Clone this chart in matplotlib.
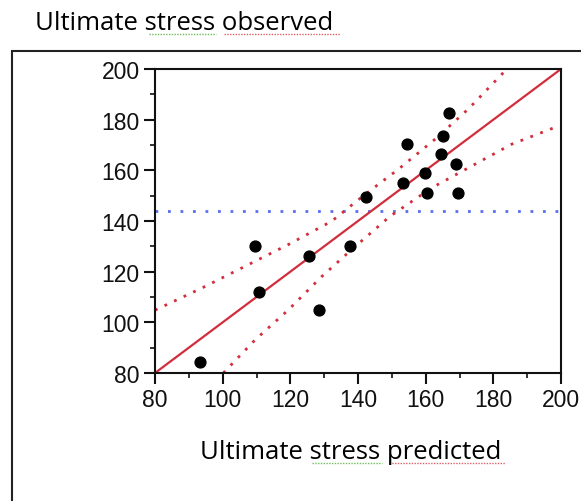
import matplotlib
matplotlib.use('Agg')

import matplotlib.pyplot  as plt
import matplotlib.patches as mpatches
import matplotlib.ticker  as ticker


# values
predicted = [93.3, 109.6, 110.7, 125.5, 128.6, 137.6, 142.4, 153.2,
             154.4, 159.8, 160.5, 164.5, 165.2, 167.0, 168.9, 169.5]
observed  = [84.5, 130.3, 112.0, 126.3, 104.7, 130.3, 149.6, 155.1,
             170.3, 159.1, 151.2, 166.3, 173.6, 182.5, 162.4, 151.2]

fit_x = [80, 200]
fit_y = [80, 200]

mean_obs = 144.0

upper_x = [80.0, 93.8, 106.6, 119.4, 132.2, 142.1, 151.9, 162.8, 172.6, 184.0]
upper_y = [104.8, 113.5, 122.1, 130.7, 139.9, 150.5, 160.4, 172.3, 184.2, 200.0]
lower_x = [100.2, 109.6, 119.4, 129.3, 138.1, 149.5, 161.8, 173.6, 185.4, 198.3]
lower_y = [80.0, 93.1, 104.9, 118.1, 128.7, 141.9, 153.1, 161.7, 170.3, 177.0]

ticks = [80, 100, 120, 140, 160, 180, 200]

title_text  = 'Ultimate stress observed'
xlabel_text = 'Ultimate stress predicted'

red  = '#d22d3c'
blue = '#5a6ef5'

W, H = 581, 502

plt.rcParams['font.family'] = ['Liberation Sans', 'DejaVu Sans']

fig = plt.figure(figsize=(W / 100, H / 100), dpi=100)

# outer frame of the report box
frame = mpatches.Rectangle((12 / W, -0.2), 1.2, 1.2 - 52 / H,
                           transform=fig.transFigure, fill=False,
                           edgecolor='#222222', linewidth=1.5)
fig.add_artist(frame)

ax = fig.add_axes([155 / W, 1 - 374 / H, 406 / W, 304 / H])

ax.axhline(mean_obs, color=blue, linewidth=2.0, linestyle=(0, (1, 3.5)))
ax.plot(upper_x, upper_y, color=red, linewidth=2.0, linestyle=(0, (1, 2.8)))
ax.plot(lower_x, lower_y, color=red, linewidth=2.0, linestyle=(0, (1, 2.8)))
ax.plot(fit_x, fit_y, color=red, linewidth=1.6)
ax.plot(predicted, observed, 'o', color='black', markersize=7.8, zorder=5)

ax.set_xlim(80, 200)
ax.set_ylim(80, 200)
ax.set_xticks(ticks)
ax.set_yticks(ticks)
ax.xaxis.set_minor_locator(ticker.MultipleLocator(10))
ax.yaxis.set_minor_locator(ticker.MultipleLocator(10))

for spine in ax.spines.values():
    spine.set_linewidth(1.5)
    spine.set_color('#111111')

ax.tick_params(which='major', direction='out', length=8, width=1.5,
               labelsize=16.5, pad=3, colors='#111111')
ax.tick_params(which='minor', direction='out', length=3.5, width=1.2,
               colors='#111111')

fig.text(35 / W, 1 - 30 / H, title_text, fontsize=18.5, family='Open Sans',
         va='baseline', ha='left', color='#000000')
fig.text(200 / W, 1 - 459 / H, xlabel_text, fontsize=18.5,
         family='Open Sans', va='baseline', ha='left', color='#000000')

# spell-check underlines from the screenshot
marks = [(149, 216, 35, '#6cbf5a'), (224, 340, 35, '#e0606a'),
         (312, 382, 464, '#6cbf5a'), (389, 505, 464, '#e0606a')]
for x0, x1, y, col in marks:
    fig.add_artist(plt.Line2D([x0 / W, x1 / W], [1 - y / H, 1 - y / H],
                              transform=fig.transFigure, color=col,
                              linewidth=1.0, linestyle=(0, (1, 1))))

fig.savefig('out.png', dpi=100)
